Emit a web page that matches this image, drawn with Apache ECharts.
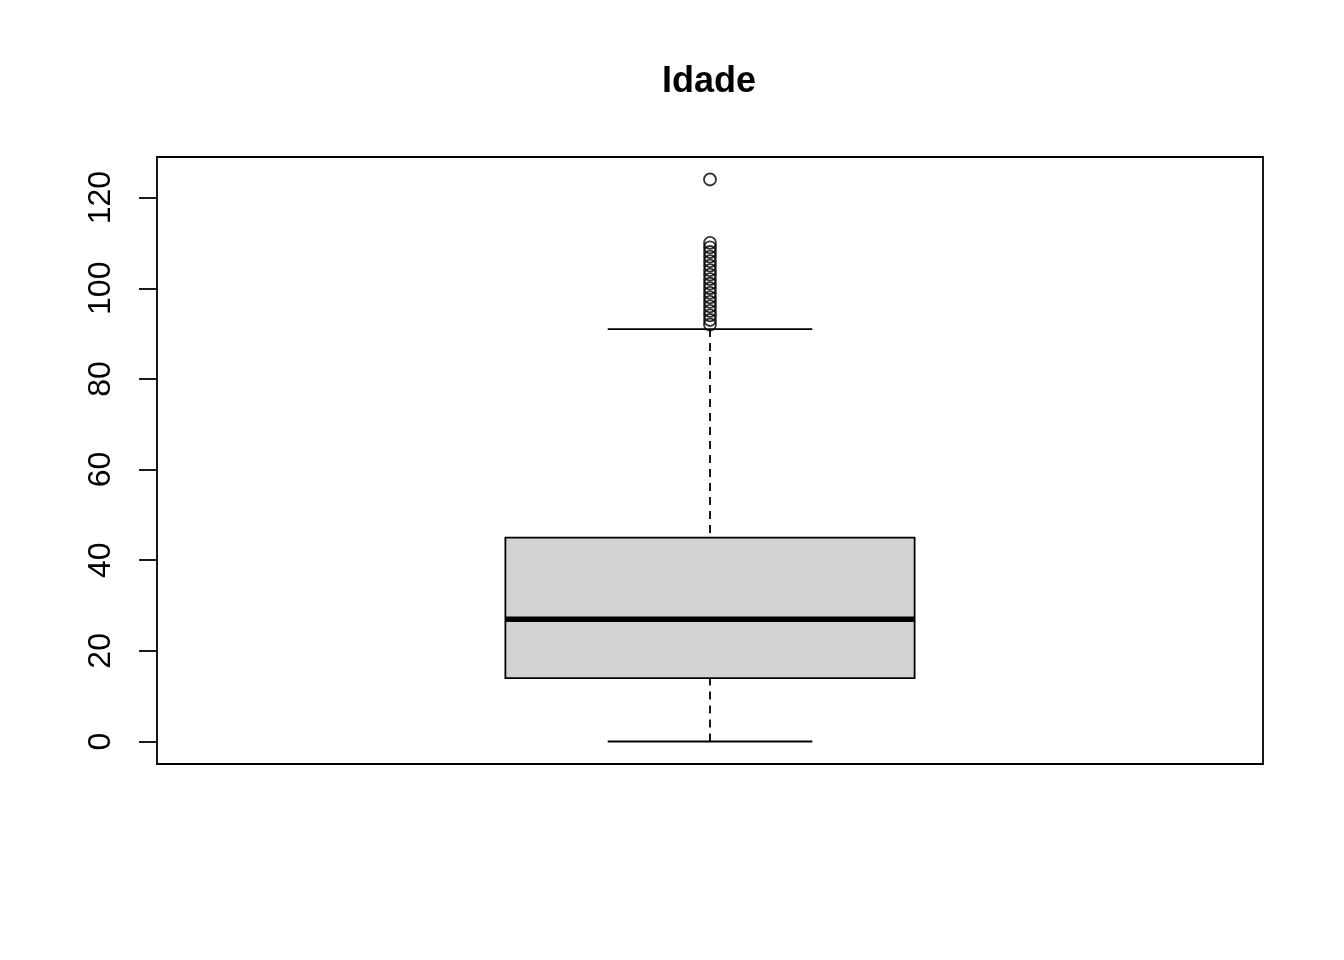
<!DOCTYPE html>
<html><head><meta charset="utf-8">
<script src="https://cdn.jsdelivr.net/npm/echarts@6/dist/echarts.min.js"></script>
<style>html,body{margin:0;padding:0;background:#fff}#c{width:1344px;height:960px}</style>
</head><body><div id="c"></div>
<script>
const title = 'Idade';
const yTicks = [0, 20, 40, 60, 80, 100, 120];
const whiskerLow = [0];
const q1 = [14];
const median = [27];
const q3 = [45];
const whiskerHigh = [91];
const outliers = [92, 93, 94, 95, 96, 97, 98, 99, 100, 101, 102, 103, 104, 105, 106, 107, 108, 109, 110, 124];

const chart = echarts.init(document.getElementById('c'), null, {renderer: 'canvas'});
const center = 0.5, halfBox = 0.185, halfCap = 0.0925;
const lw = 1.8;

chart.setOption({
  animation: false,
  backgroundColor: '#fff',
  title: {text: title, left: 704, top: 59, textAlign: 'center',
    textStyle: {fontFamily: 'Liberation Sans, Arial', fontWeight: 'bold', fontSize: 36, color: '#000'}},
  grid: {left: 157, top: 157, width: 1106, height: 607, show: true, borderColor: '#000', borderWidth: lw, backgroundColor: 'transparent'},
  xAxis: {type: 'value', min: 0, max: 1, show: false},
  yAxis: {type: 'value', min: -4.96, max: 128.96,
    axisLine: {show: false}, splitLine: {show: false},
    axisTick: {show: true, length: 18, lineStyle: {color: '#000', width: lw}, customValues: yTicks},
    axisLabel: {rotate: 90, margin: 56, fontSize: 32, color: '#000', fontFamily: 'Liberation Sans, Arial', customValues: yTicks,
      verticalAlign: 'middle', align: 'center'}
  },
  series: [{
    type: 'custom',
    data: [[center, whiskerLow[0], q1[0], median[0], q3[0], whiskerHigh[0]]],
    renderItem: function (params, api) {
      const x = api.value(0);
      const lo = api.coord([x, api.value(1)]);
      const b1 = api.coord([x - halfBox, api.value(2)]);
      const b2 = api.coord([x + halfBox, api.value(4)]);
      const md1 = api.coord([x - halfBox, api.value(3)]);
      const md2 = api.coord([x + halfBox, api.value(3)]);
      const hi = api.coord([x, api.value(5)]);
      const c1l = api.coord([x - halfCap, api.value(1)]);
      const c1r = api.coord([x + halfCap, api.value(1)]);
      const c2l = api.coord([x - halfCap, api.value(5)]);
      const c2r = api.coord([x + halfCap, api.value(5)]);
      const dash = {stroke: '#000', lineWidth: lw, lineDash: [8, 6]};
      const solid = {stroke: '#000', lineWidth: lw};
      return {type: 'group', children: [
        {type: 'line', shape: {x1: lo[0], y1: lo[1], x2: lo[0], y2: b1[1]}, style: dash},
        {type: 'line', shape: {x1: hi[0], y1: hi[1], x2: hi[0], y2: b2[1]}, style: dash},
        {type: 'line', shape: {x1: c1l[0], y1: c1l[1], x2: c1r[0], y2: c1r[1]}, style: solid},
        {type: 'line', shape: {x1: c2l[0], y1: c2l[1], x2: c2r[0], y2: c2r[1]}, style: solid},
        {type: 'rect', shape: {x: b1[0], y: b2[1], width: b2[0] - b1[0], height: b1[1] - b2[1]},
          style: {fill: '#d3d3d3', stroke: '#000', lineWidth: lw}},
        {type: 'line', shape: {x1: md1[0], y1: md1[1], x2: md2[0], y2: md2[1]}, style: {stroke: '#000', lineWidth: 5.5}}
      ]};
    }
  }, {
    type: 'scatter',
    data: outliers.map(v => [center, v]),
    symbol: 'circle', symbolSize: 12,
    itemStyle: {color: 'transparent', borderColor: '#000', borderWidth: lw}
  }]
});
</script></body></html>
